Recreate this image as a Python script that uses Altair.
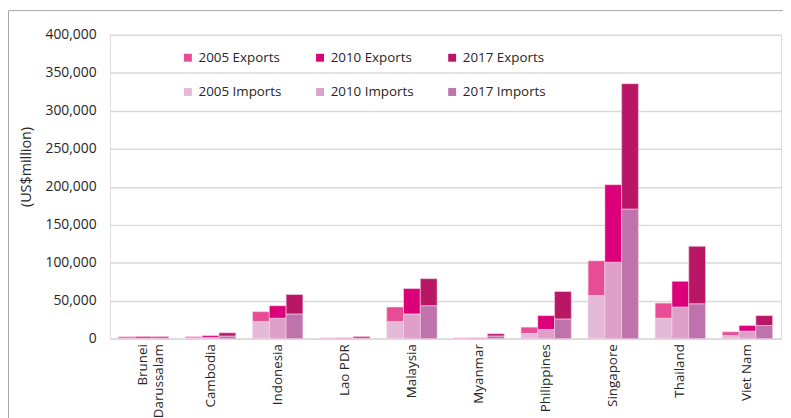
import altair as alt
import pandas as pd

countries = ["Brunei Darussalam", "Cambodia", "Indonesia", "Lao PDR", "Malaysia",
             "Myanmar", "Philippines", "Singapore", "Thailand", "Viet Nam"]
years = ["2005", "2010", "2017"]

imports_2005 = [800, 1200, 22600, 500, 22600, 400, 7000, 56900, 27000, 4300]
exports_2005 = [1800, 1500, 13000, 500, 19100, 600, 8200, 45600, 19900, 4800]
imports_2010 = [900, 1500, 27000, 500, 32600, 500, 12200, 100700, 41700, 10000]
exports_2010 = [2000, 2500, 16400, 600, 33400, 600, 18200, 102100, 33900, 7400]
imports_2017 = [1000, 3500, 32600, 1000, 43400, 3600, 26000, 170700, 46000, 17400]
exports_2017 = [1800, 4300, 25600, 2000, 35600, 3000, 36100, 165000, 75600, 13000]

series_order = ["2005 Exports", "2010 Exports", "2017 Exports",
                "2005 Imports", "2010 Imports", "2017 Imports"]
series_colors = ["#E64D95", "#DB007A", "#B91766", "#E5BAD9", "#DEA0C8", "#BE73AD"]

imports = {"2005": imports_2005, "2010": imports_2010, "2017": imports_2017}
exports = {"2005": exports_2005, "2010": exports_2010, "2017": exports_2017}

rows = []
for i, c in enumerate(countries):
    for y in years:
        imp = imports[y][i]
        exp = exports[y][i]
        rows.append({"country": c, "year": y, "series": f"{y} Imports", "start": 0, "end": imp})
        rows.append({"country": c, "year": y, "series": f"{y} Exports", "start": imp, "end": imp + exp})
df = pd.DataFrame(rows)

FONT = "Open Sans"
W, H = 678, 307

bars = alt.Chart(df).mark_bar(stroke="#f6d3e5", strokeWidth=0.6).encode(
    x=alt.X("country:N", sort=countries,
            scale=alt.Scale(paddingInner=0.25, paddingOuter=0.125),
            axis=alt.Axis(title=None, labelAngle=-90, ticks=False, labelPadding=5,
                          labelFontSize=13.5, labelColor="#262626", labelFont=FONT,
                          domainColor="#d9d9d9", domainWidth=1.5,
                          labelExpr="datum.value == 'Brunei Darussalam' ? ['Brunei', 'Darussalam'] : datum.label")),
    xOffset=alt.XOffset("year:N", sort=years),
    y=alt.Y("start:Q", scale=alt.Scale(domain=[0, 400000]),
            axis=alt.Axis(title="(US$million)", values=list(range(0, 400001, 50000)),
                          format=",.0f", ticks=False, domain=False, labelPadding=14,
                          labelFontSize=14, labelColor="#262626", labelFont=FONT,
                          grid=True, gridColor="#d9d9d9", gridWidth=1.5,
                          titleFontSize=14.5, titleFont=FONT, titleFontWeight="normal",
                          titleColor="#262626", titleX=-77, titleY=133)),
    y2="end:Q",
    color=alt.Color("series:N", scale=alt.Scale(domain=series_order, range=series_colors),
                    legend=alt.Legend(title=None, orient="none", legendX=72, legendY=16,
                                      direction="horizontal",
                                      columns=3, symbolType="square", symbolSize=64,
                                      symbolStrokeWidth=0, labelFontSize=13.5, labelFont=FONT,
                                      labelColor="#262626", rowPadding=20, columnPadding=31.5,
                                      gridAlign="all", labelOffset=4)),
)

border = alt.Chart(pd.DataFrame({"k": [0]})).mark_rect(
    filled=False, fillOpacity=0, stroke="#a6a6a6", strokeWidth=1
).encode(
    x=alt.value(-102.5), x2=alt.value(W + 40), y=alt.value(-24.5), y2=alt.value(H + 120)
)

chart = alt.layer(bars, border).properties(
    width=W, height=H,
    autosize=alt.AutoSizeParams(type="none"),
    padding={"left": 103, "top": 25, "right": 2, "bottom": 78},
).configure_view(stroke=None).configure(font=FONT)

chart.save("out.html", embed_options={"renderer": "svg", "actions": False})
